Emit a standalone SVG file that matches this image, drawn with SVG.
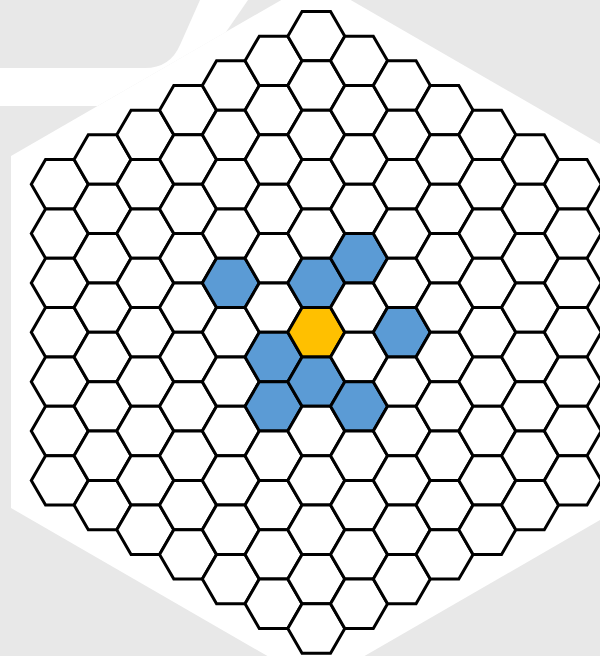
<svg xmlns="http://www.w3.org/2000/svg" width="600" height="656" viewBox="0 0 600 656">
<style>
.bg{fill:#e8e8e8}
.wh{fill:#ffffff}
use{fill:#ffffff;stroke:#000000;stroke-width:3;stroke-linejoin:miter}
use.b{fill:#5b9bd5}
use.y{fill:#ffc000}
</style>
<defs>
<polygon id="h" points="-28.5,0 -14.25,-24.68 14.25,-24.68 28.5,0 14.25,24.68 -14.25,24.68"/>
</defs>
<g id="background">
<rect class="bg" x="0" y="0" width="600" height="656"/>
<polygon class="wh" points="316,-20 621,156 621,508 316,684 11,508 11,156"/>
<path class="wh" d="M0,68 L145,68 Q170,68 180,45 L200,0 L248,0 L226,32 L97.6,106 L0,106 Z"/>
</g>
<g id="grid" transform="translate(316.3,332.3)">
<g id="col-6" transform="translate(-256.5,0)">
<use href="#h" y="-148.08"/><use href="#h" y="-98.72"/><use href="#h" y="-49.36"/><use href="#h" y="0"/><use href="#h" y="49.36"/><use href="#h" y="98.72"/><use href="#h" y="148.08"/>
</g>
<g id="col-5" transform="translate(-213.75,0)">
<use href="#h" y="-172.76"/><use href="#h" y="-123.4"/><use href="#h" y="-74.04"/><use href="#h" y="-24.68"/><use href="#h" y="24.68"/><use href="#h" y="74.04"/><use href="#h" y="123.4"/><use href="#h" y="172.76"/>
</g>
<g id="col-4" transform="translate(-171,0)">
<use href="#h" y="-197.44"/><use href="#h" y="-148.08"/><use href="#h" y="-98.72"/><use href="#h" y="-49.36"/><use href="#h" y="0"/><use href="#h" y="49.36"/><use href="#h" y="98.72"/><use href="#h" y="148.08"/><use href="#h" y="197.44"/>
</g>
<g id="col-3" transform="translate(-128.25,0)">
<use href="#h" y="-222.12"/><use href="#h" y="-172.76"/><use href="#h" y="-123.4"/><use href="#h" y="-74.04"/><use href="#h" y="-24.68"/><use href="#h" y="24.68"/><use href="#h" y="74.04"/><use href="#h" y="123.4"/><use href="#h" y="172.76"/><use href="#h" y="222.12"/>
</g>
<g id="col-2" transform="translate(-85.5,0)">
<use href="#h" y="-246.8"/><use href="#h" y="-197.44"/><use href="#h" y="-148.08"/><use href="#h" y="-98.72"/><use class="b" href="#h" y="-49.36"/><use href="#h" y="0"/><use href="#h" y="49.36"/><use href="#h" y="98.72"/><use href="#h" y="148.08"/><use href="#h" y="197.44"/><use href="#h" y="246.8"/>
</g>
<g id="col-1" transform="translate(-42.75,0)">
<use href="#h" y="-271.48"/><use href="#h" y="-222.12"/><use href="#h" y="-172.76"/><use href="#h" y="-123.4"/><use href="#h" y="-74.04"/><use href="#h" y="-24.68"/><use class="b" href="#h" y="24.68"/><use class="b" href="#h" y="74.04"/><use href="#h" y="123.4"/><use href="#h" y="172.76"/><use href="#h" y="222.12"/><use href="#h" y="271.48"/>
</g>
<g id="col0" transform="translate(0,0)">
<use href="#h" y="-296.16"/><use href="#h" y="-246.8"/><use href="#h" y="-197.44"/><use href="#h" y="-148.08"/><use href="#h" y="-98.72"/><use class="b" href="#h" y="-49.36"/><use class="y" href="#h" y="0"/><use class="b" href="#h" y="49.36"/><use href="#h" y="98.72"/><use href="#h" y="148.08"/><use href="#h" y="197.44"/><use href="#h" y="246.8"/><use href="#h" y="296.16"/>
</g>
<g id="col1" transform="translate(42.75,0)">
<use href="#h" y="-271.48"/><use href="#h" y="-222.12"/><use href="#h" y="-172.76"/><use href="#h" y="-123.4"/><use class="b" href="#h" y="-74.04"/><use href="#h" y="-24.68"/><use href="#h" y="24.68"/><use class="b" href="#h" y="74.04"/><use href="#h" y="123.4"/><use href="#h" y="172.76"/><use href="#h" y="222.12"/><use href="#h" y="271.48"/>
</g>
<g id="col2" transform="translate(85.5,0)">
<use href="#h" y="-246.8"/><use href="#h" y="-197.44"/><use href="#h" y="-148.08"/><use href="#h" y="-98.72"/><use href="#h" y="-49.36"/><use class="b" href="#h" y="0"/><use href="#h" y="49.36"/><use href="#h" y="98.72"/><use href="#h" y="148.08"/><use href="#h" y="197.44"/><use href="#h" y="246.8"/>
</g>
<g id="col3" transform="translate(128.25,0)">
<use href="#h" y="-222.12"/><use href="#h" y="-172.76"/><use href="#h" y="-123.4"/><use href="#h" y="-74.04"/><use href="#h" y="-24.68"/><use href="#h" y="24.68"/><use href="#h" y="74.04"/><use href="#h" y="123.4"/><use href="#h" y="172.76"/><use href="#h" y="222.12"/>
</g>
<g id="col4" transform="translate(171,0)">
<use href="#h" y="-197.44"/><use href="#h" y="-148.08"/><use href="#h" y="-98.72"/><use href="#h" y="-49.36"/><use href="#h" y="0"/><use href="#h" y="49.36"/><use href="#h" y="98.72"/><use href="#h" y="148.08"/><use href="#h" y="197.44"/>
</g>
<g id="col5" transform="translate(213.75,0)">
<use href="#h" y="-172.76"/><use href="#h" y="-123.4"/><use href="#h" y="-74.04"/><use href="#h" y="-24.68"/><use href="#h" y="24.68"/><use href="#h" y="74.04"/><use href="#h" y="123.4"/><use href="#h" y="172.76"/>
</g>
<g id="col6" transform="translate(256.5,0)">
<use href="#h" y="-148.08"/><use href="#h" y="-98.72"/><use href="#h" y="-49.36"/><use href="#h" y="0"/><use href="#h" y="49.36"/><use href="#h" y="98.72"/><use href="#h" y="148.08"/>
</g>
</g>
</svg>
